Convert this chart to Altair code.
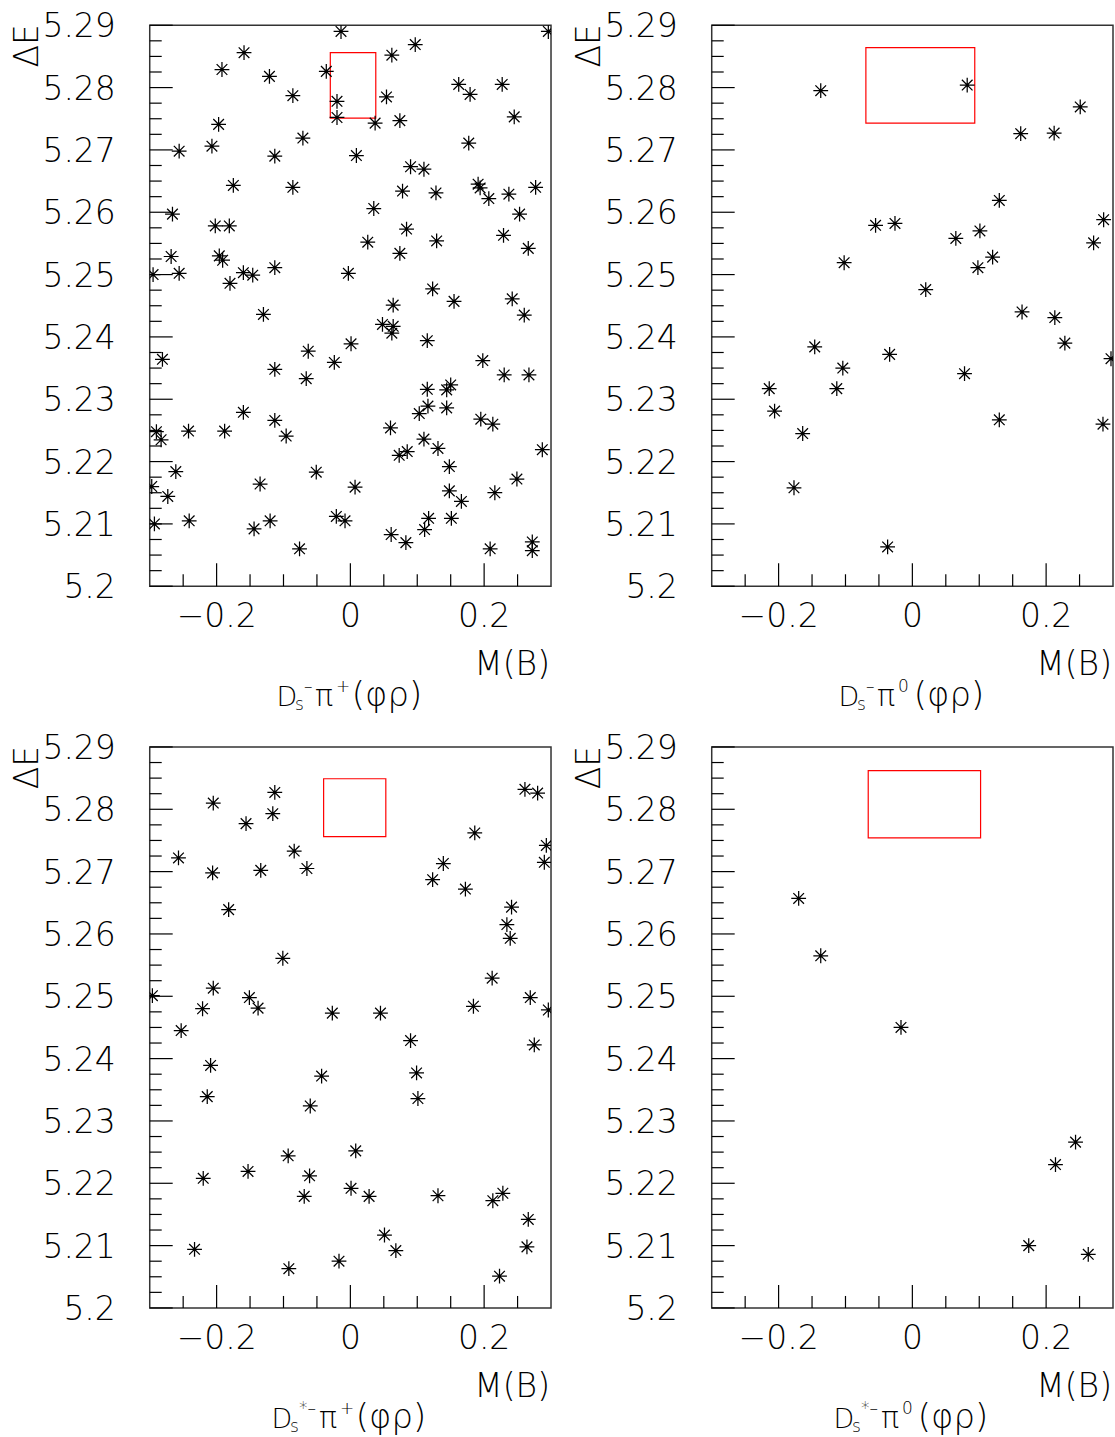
import altair as alt
import pandas as pd

# ---------------- data ----------------
X_DOMAIN = [-0.3, 0.3]
Y_DOMAIN = [5.2, 5.29]

p1_x = [-0.014, 0.296, 0.097, -0.159, 0.062, -0.192, -0.036, -0.121, 0.162, 0.227,
        -0.086, 0.179, 0.054, -0.020, 0.245, -0.020, -0.197, 0.037, 0.074, -0.071,
        0.177, -0.256, -0.207, -0.113, 0.009, 0.090, 0.110, -0.175, -0.086, 0.078,
        0.128, 0.191, 0.194, 0.207, 0.237, 0.277, -0.266, 0.035, 0.253, -0.202,
        -0.181, 0.084, 0.026, 0.129, 0.229, 0.266, -0.268, -0.196, -0.191, 0.074,
        -0.295, -0.256, -0.180, -0.160, -0.146, -0.113, -0.003,
        0.123, 0.155, 0.064, 0.242, 0.260, -0.130, 0.048, 0.064, 0.062, 0.001,
        0.115, -0.281, -0.063, -0.024, -0.113, -0.066, 0.198, 0.230, 0.267, 0.115,
        0.150, 0.144, 0.116, 0.103, 0.144, -0.160, -0.113, 0.195, 0.213, -0.290,
        -0.283, -0.242, -0.188, -0.096, 0.060, 0.110, 0.131, 0.073, 0.085, 0.287,
        -0.261, -0.051, 0.148, -0.297, -0.273, -0.135, 0.007, 0.148, 0.166, 0.216,
        0.249, -0.293, -0.241, -0.144, -0.120, -0.021, -0.008, 0.117, 0.151, 0.061,
        0.083, 0.111, -0.076, 0.209, 0.272, 0.272]
p1_y = [5.2890, 5.2890, 5.2869, 5.2856, 5.2852, 5.2829, 5.2826, 5.2818, 5.2805, 5.2805,
        5.2787, 5.2789, 5.2785, 5.2778, 5.2753, 5.2752, 5.2741, 5.2743, 5.2747, 5.2719,
        5.2711, 5.2698, 5.2706, 5.2690, 5.2691, 5.2673, 5.2669, 5.2643, 5.2640, 5.2634,
        5.2631, 5.2645, 5.2639, 5.2622, 5.2629, 5.2640, 5.2597, 5.2606, 5.2597, 5.2578,
        5.2578, 5.2573, 5.2552, 5.2554, 5.2563, 5.2542, 5.2529, 5.2530, 5.2523, 5.2534,
        5.2500, 5.2502, 5.2486, 5.2503, 5.2499, 5.2511, 5.2502,
        5.2477, 5.2457, 5.2451, 5.2461, 5.2435, 5.2436, 5.2420, 5.2417, 5.2406, 5.2389,
        5.2394, 5.2364, 5.2377, 5.2359, 5.2348, 5.2333, 5.2362, 5.2339, 5.2339, 5.2316,
        5.2323, 5.2315, 5.2289, 5.2277, 5.2286, 5.2279, 5.2266, 5.2268, 5.2260, 5.2248,
        5.2235, 5.2249, 5.2249, 5.2241, 5.2254, 5.2236, 5.2221, 5.2210, 5.2216, 5.2219,
        5.2184, 5.2183, 5.2192, 5.2160, 5.2144, 5.2164, 5.2159, 5.2153, 5.2136, 5.2150,
        5.2172, 5.2100, 5.2105, 5.2092, 5.2105, 5.2112, 5.2105, 5.2109, 5.2109, 5.2083,
        5.2070, 5.2091, 5.2060, 5.2060, 5.2071, 5.2057]

p2_x = [-0.137, 0.082, 0.251, 0.162, 0.212, 0.130, -0.055, -0.026, 0.286, 0.065,
        0.101, 0.271, -0.102, 0.120, 0.098, 0.020, 0.164, 0.213, 0.228, -0.146,
        -0.034, 0.297, -0.104, 0.078, -0.214, -0.113, -0.206, 0.130, 0.285, -0.164,
        -0.177, -0.037]
p2_y = [5.2795, 5.2804, 5.2769, 5.2726, 5.2727, 5.2619, 5.2579, 5.2582, 5.2588, 5.2558,
        5.2570, 5.2551, 5.2519, 5.2528, 5.2511, 5.2476, 5.2440, 5.2431, 5.2390, 5.2384,
        5.2372, 5.2365, 5.2350, 5.2341, 5.2317, 5.2317, 5.2281, 5.2267, 5.2260, 5.2245,
        5.2158, 5.2063]

p3_x = [-0.205, -0.113, -0.116, -0.156, -0.257, -0.084, -0.206, -0.134, -0.065, -0.182,
        -0.101, 0.261, 0.280, 0.186, 0.293, 0.290, 0.139, 0.123, 0.172, 0.241,
        0.234, 0.239, 0.212, -0.296, -0.205, -0.151, -0.138, -0.221, -0.027, 0.045,
        0.184, 0.269, 0.296,
        -0.253, 0.090, 0.275, -0.209, -0.043, 0.099, -0.214, -0.060, 0.101, -0.093,
        0.008, -0.153, -0.220, -0.061, 0.001, -0.069, 0.028, 0.131, 0.213, 0.228,
        0.266, 0.264, 0.051, 0.068, -0.233, -0.017, -0.092, 0.223]
p3_y = [5.2810, 5.2827, 5.2793, 5.2777, 5.2722, 5.2733, 5.2698, 5.2702, 5.2705, 5.2639,
        5.2561, 5.2832, 5.2826, 5.2762, 5.2742, 5.2715, 5.2713, 5.2687, 5.2672, 5.2643,
        5.2615, 5.2593, 5.2529, 5.2501, 5.2513, 5.2498, 5.2481, 5.2480, 5.2473, 5.2473,
        5.2484, 5.2498, 5.2478,
        5.2445, 5.2429, 5.2422, 5.2389, 5.2372, 5.2377, 5.2339, 5.2324, 5.2336, 5.2244,
        5.2252, 5.2219, 5.2208, 5.2212, 5.2192, 5.2179, 5.2179, 5.2180, 5.2172, 5.2184,
        5.2142, 5.2098, 5.2117, 5.2092, 5.2094, 5.2075, 5.2063, 5.2051]

p4_x = [-0.170, -0.137, -0.017, 0.244, 0.214, 0.174, 0.263]
p4_y = [5.2657, 5.2565, 5.2450, 5.2266, 5.2230, 5.2100, 5.2086]

box_x1 = [-0.030, -0.0695, -0.040, -0.066]
box_x2 = [0.038, 0.0933, 0.053, 0.102]
box_y1 = [5.2751, 5.2743, 5.2756, 5.2754]
box_y2 = [5.2856, 5.2864, 5.2849, 5.2862]

x_label_values = [-0.2, 0.0, 0.2]
x_label_texts = ["−0.2", "0", "0.2"]
y_label_values = [5.2, 5.21, 5.22, 5.23, 5.24, 5.25, 5.26, 5.27, 5.28, 5.29]
y_label_texts = ["5.2", "5.21", "5.22", "5.23", "5.24", "5.25", "5.26", "5.27", "5.28", "5.29"]
x_minor_ticks = [-0.25, -0.15, -0.1, -0.05, 0.05, 0.1, 0.15, 0.25]
y_minor_ticks = [round(5.2 + 0.0025 * i, 4) for i in range(37) if i % 4]

x_axis_title = "M(B)"
y_axis_title = "ΔE"

# title pieces: (text, role)
titles = [
    [("D", "main"), ("s", "sub"), ("–", "sup"), ("π", "pi"), ("+", "sup2"), ("(φρ)", "paren")],
    [("D", "main"), ("s", "sub"), ("–", "sup"), ("π", "pi"), ("0", "sup2"), ("(φρ)", "paren")],
    [("D", "main"), ("s", "sub"), ("*–", "supstar"), ("π", "pi"), ("+", "sup2"), ("(φρ)", "paren")],
    [("D", "main"), ("s", "sub"), ("*–", "supstar"), ("π", "pi"), ("0", "sup2"), ("(φρ)", "paren")],
]
title_x0 = [127, 127, 122, 122]

# ---------------- style / layout ----------------
W, H = 402, 562
FONT = "DejaVu Sans"
WEIGHT = 200
LABEL_SIZE = 33
STAR = "M-1,0L1,0M0,-1L0,1M-0.72,-0.72L0.72,0.72M-0.72,0.72L0.72,-0.72"
# role -> (font size, baseline shift, advance)
ROLE = {
    "main": (27, 0, 18.5),
    "sub": (17, 4, 9),
    "sup": (17, -14, 11),
    "supstar": (17, -14, 20),
    "pi": (30, 0, 21),
    "sup2": (17, -14, 16),
    "paren": (34, 0, 0),
}

xs = alt.Scale(domain=X_DOMAIN, nice=False, zero=False)
ys = alt.Scale(domain=Y_DOMAIN, nice=False, zero=False)


def one_row(**kw):
    return pd.DataFrame({k: [v] for k, v in kw.items()})


def text_layer(txt, x, y, size, align="left", angle=0, baseline="alphabetic"):
    return alt.Chart(one_row(t=txt)).mark_text(
        align=align, baseline=baseline, angle=angle, font=FONT,
        fontSize=size, fontWeight=WEIGHT, color="black"
    ).encode(x=alt.value(x), y=alt.value(y), text="t:N")


def panel(i, xv, yv, extra=None):
    pts = pd.DataFrame({"m": xv, "de": yv})
    stars = alt.Chart(pts).mark_point(
        shape=STAR, size=220, filled=False, stroke="black", strokeWidth=1.25,
        opacity=1, clip=True
    ).encode(
        x=alt.X("m:Q", scale=xs, axis=None),
        y=alt.Y("de:Q", scale=ys, axis=None),
    )
    dots = alt.Chart(pts).mark_circle(size=6, color="black", opacity=1, clip=True).encode(
        x=alt.X("m:Q", scale=xs, axis=None), y=alt.Y("de:Q", scale=ys, axis=None)
    )
    box = alt.Chart(one_row(a=box_x1[i], b=box_x2[i], c=box_y1[i], d=box_y2[i])).mark_rect(
        fillOpacity=0, stroke="red", strokeWidth=1.2
    ).encode(
        x=alt.X("a:Q", scale=xs, axis=None), x2="b:Q",
        y=alt.Y("c:Q", scale=ys, axis=None), y2="d:Q",
    )
    xmaj = alt.Chart(pd.DataFrame({"v": x_label_values})).mark_rule(color="black", strokeWidth=1.2).encode(
        x=alt.X("v:Q", scale=xs, axis=None), y=alt.value(H), y2=alt.value(H - 23))
    xmin = alt.Chart(pd.DataFrame({"v": x_minor_ticks})).mark_rule(color="black", strokeWidth=1.2).encode(
        x=alt.X("v:Q", scale=xs, axis=None), y=alt.value(H), y2=alt.value(H - 12))
    ymaj = alt.Chart(pd.DataFrame({"v": y_label_values})).mark_rule(color="black", strokeWidth=1.2).encode(
        y=alt.Y("v:Q", scale=ys, axis=None), x=alt.value(0), x2=alt.value(23))
    ymin = alt.Chart(pd.DataFrame({"v": y_minor_ticks})).mark_rule(color="black", strokeWidth=1.2).encode(
        y=alt.Y("v:Q", scale=ys, axis=None), x=alt.value(0), x2=alt.value(12))

    xlab = alt.Chart(pd.DataFrame({"v": x_label_values, "t": x_label_texts})).mark_text(
        align="center", baseline="alphabetic", font=FONT, fontSize=LABEL_SIZE,
        fontWeight=WEIGHT, color="black"
    ).encode(x=alt.X("v:Q", scale=xs, axis=None), y=alt.value(H + 41), text="t:N")
    ylab = alt.Chart(pd.DataFrame({"v": y_label_values, "t": y_label_texts})).mark_text(
        align="right", baseline="alphabetic", dy=12, font=FONT, fontSize=LABEL_SIZE,
        fontWeight=WEIGHT, color="black"
    ).encode(y=alt.Y("v:Q", scale=ys, axis=None), x=alt.value(-34), text="t:N")

    layers = [xmaj, xmin, ymaj, ymin, box, stars, dots, xlab, ylab,
              text_layer(x_axis_title, W - 1, H + 89, LABEL_SIZE, align="right"),
              text_layer(y_axis_title, -112, -1, LABEL_SIZE, align="right", angle=270)]
    xpos = title_x0[i]
    for txt, role in titles[i]:
        size, dy, adv = ROLE[role]
        layers.append(text_layer(txt, xpos, H + 120 + dy, size))
        xpos += adv
    if extra is not None:
        layers.append(extra)
    return alt.layer(*layers).properties(width=W, height=H)


# invisible corner helpers that fix the page bounds
top_left = alt.Chart(one_row(k=0)).mark_rule(color="white", strokeWidth=1).encode(
    x=alt.value(-148.5), x2=alt.value(-140), y=alt.value(-22.5))
bottom_right = alt.Chart(one_row(k=0)).mark_rule(color="white", strokeWidth=1).encode(
    x=alt.value(W - 10), x2=alt.value(W + 0.5), y=alt.value(H + 128.5))

chart = alt.concat(
    panel(0, p1_x, p1_y, top_left),
    panel(1, p2_x, p2_y),
    panel(2, p3_x, p3_y),
    panel(3, p4_x, p4_y, bottom_right),
    columns=2, spacing=161, bounds="flush",
).properties(
    padding=0
).configure_view(
    stroke="#333", strokeWidth=1.5
)

chart.save("out.html", embed_options={"renderer": "svg", "actions": False})
